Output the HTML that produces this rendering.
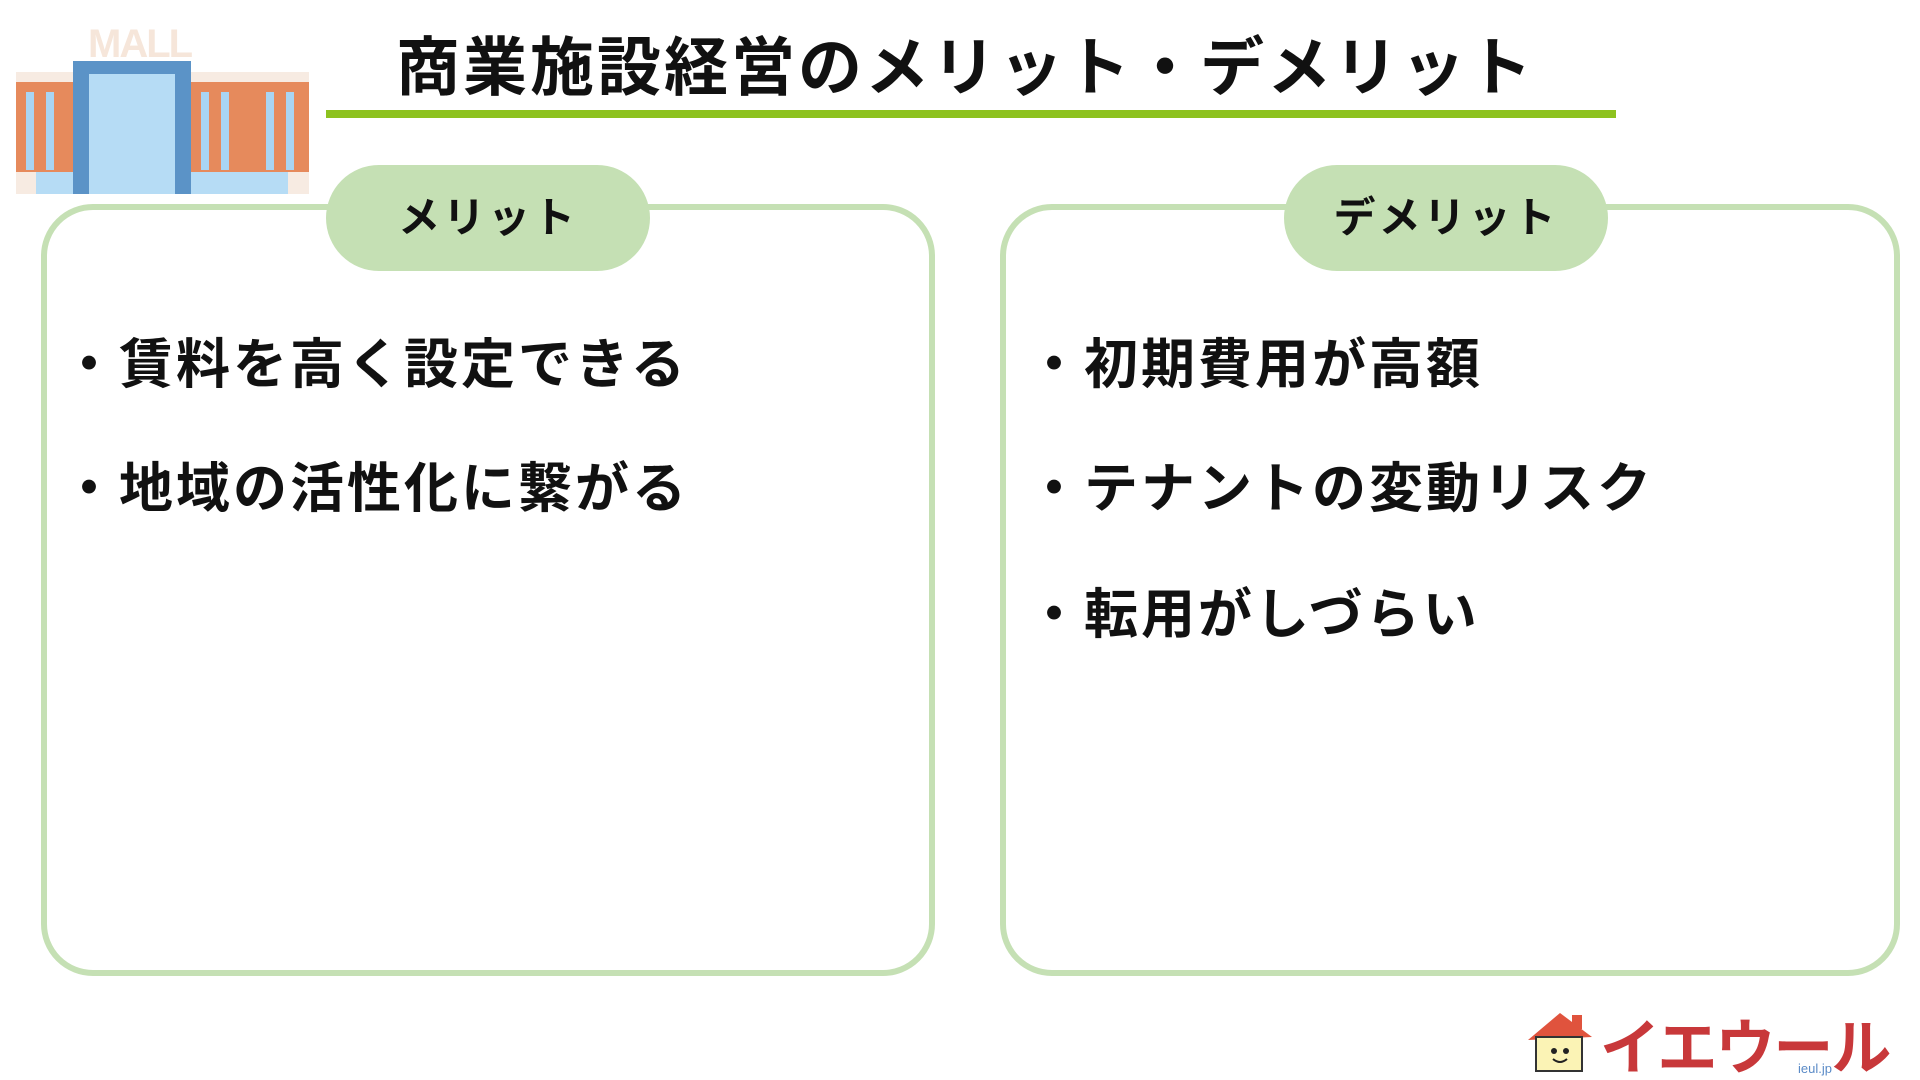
<!DOCTYPE html>
<html><head><meta charset="utf-8">
<style>
html,body{margin:0;padding:0;background:#fff;}
body{width:1920px;height:1080px;position:relative;overflow:hidden;font-family:"Liberation Sans","Noto Sans CJK JP",sans-serif;color:#111;}
.abs{position:absolute;}
.title{left:396px;top:24px;font-size:64px;font-weight:bold;letter-spacing:3px;line-height:88px;white-space:nowrap;}
.uline{left:326px;top:110px;width:1290px;height:8px;background:#8dc21f;}
.box{border:6px solid #c5e0b4;border-radius:52px;box-sizing:border-box;background:#fff;}
.pill{background:#c5e0b4;border-radius:53px;text-align:center;font-size:42px;font-weight:bold;letter-spacing:3px;line-height:106px;}
.item{font-size:54px;font-weight:bold;line-height:70px;white-space:nowrap;letter-spacing:3px;}
</style></head><body>

<!-- mall icon -->
<div class="abs" style="left:16px;top:22px;width:293px;height:172px;">
  <div class="abs" style="left:72px;top:0;font-size:40px;font-weight:bold;color:#f6e6da;letter-spacing:-2px;font-family:'Liberation Sans',sans-serif;line-height:44px;">MALL</div>
  <div class="abs" style="left:0;top:50px;width:293px;height:12px;background:#f7ebe2;"></div>
  <div class="abs" style="left:0;top:60px;width:293px;height:105px;background:#e68a5c;"></div>
  <div class="abs" style="left:0;top:150px;width:293px;height:22px;background:#f7ebe2;"></div>
  <div class="abs" style="left:20px;top:150px;width:252px;height:22px;background:#b6dcf5;"></div>
  <div class="abs" style="left:10px;top:70px;width:8px;height:78px;background:#a9d5f3;"></div>
  <div class="abs" style="left:30px;top:70px;width:8px;height:78px;background:#a9d5f3;"></div>
  <div class="abs" style="left:185px;top:70px;width:8px;height:78px;background:#a9d5f3;"></div>
  <div class="abs" style="left:205px;top:70px;width:8px;height:78px;background:#a9d5f3;"></div>
  <div class="abs" style="left:250px;top:70px;width:8px;height:78px;background:#a9d5f3;"></div>
  <div class="abs" style="left:270px;top:70px;width:8px;height:78px;background:#a9d5f3;"></div>
  <div class="abs" style="left:57px;top:39px;width:118px;height:133px;background:#5b93c7;"></div>
  <div class="abs" style="left:73px;top:52px;width:86px;height:120px;background:#b6dcf5;"></div>
</div>

<div class="abs title">商業施設経営のメリット・デメリット</div>
<div class="abs uline"></div>

<div class="abs box" style="left:41px;top:204px;width:894px;height:772px;"></div>
<div class="abs pill" style="left:326px;top:165px;width:324px;height:106px;">メリット</div>
<div class="abs item" style="left:62px;top:330px;">・賃料を高く設定できる</div>
<div class="abs item" style="left:62px;top:454px;">・地域の活性化に繋がる</div>

<div class="abs box" style="left:1000px;top:204px;width:900px;height:772px;"></div>
<div class="abs pill" style="left:1284px;top:165px;width:324px;height:106px;">デメリット</div>
<div class="abs item" style="left:1027px;top:330px;">・初期費用が高額</div>
<div class="abs item" style="left:1027px;top:454px;">・テナントの変動リスク</div>
<div class="abs item" style="left:1027px;top:580px;">・転用がしづらい</div>

<!-- logo -->
<svg class="abs" style="left:1520px;top:1005px;" width="400" height="75" viewBox="0 0 400 75">
  <polygon points="8,35 40,8 72,32" fill="#e0533d"/>
  <rect x="52" y="10" width="10" height="14" fill="#e0533d"/>
  <rect x="16" y="32" width="46" height="34" fill="#fbf3b5" stroke="#333" stroke-width="2"/>
  <circle cx="34" cy="46" r="3" fill="#222"/><circle cx="46" cy="46" r="3" fill="#222"/>
  <path d="M33 54 Q40 60 47 54" stroke="#222" stroke-width="2" fill="none"/>
  <text x="80" y="64" font-family="Noto Sans CJK JP,sans-serif" font-weight="bold" font-size="60" fill="#c8383a" letter-spacing="-2">イエウール</text>
  <text x="278" y="68" font-family="Liberation Sans,sans-serif" font-size="13" fill="#5b8bc7">ieul.jp</text>
</svg>
</body></html>
